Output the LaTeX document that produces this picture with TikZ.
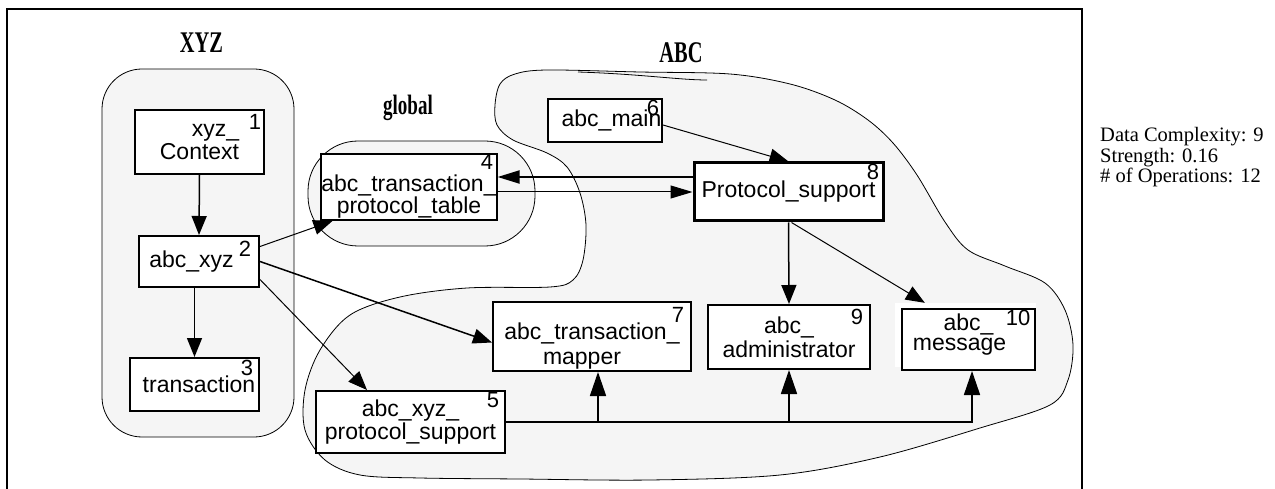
\documentclass[tikz,border=0pt]{standalone}
\usepackage{fontspec}
\setmainfont{Liberation Serif}
\setsansfont{Liberation Sans}
\newfontfamily\titlefont[FakeStretch=0.68]{Liberation Serif Bold}
\usetikzlibrary{arrows.meta}
\definecolor{grpfill}{HTML}{F5F5F5}

\tikzset{
  box/.style={draw, line width=2pt, fill=white, inner sep=0pt, align=center,
    font=\sffamily\fontsize{23}{23}\selectfont},
  num/.style={inner sep=0pt, font=\sffamily\fontsize{22}{22}\selectfont},
  grp/.style={draw, line width=0.8pt, fill=grpfill},
  grptitle/.style={anchor=base, inner sep=0pt, font=\titlefont\fontsize{30}{30}\selectfont},
  stat/.style={anchor=base west, inner sep=0pt, font=\fontsize{20.5}{21}\selectfont},
  dep/.style={line width=1.5pt, -{Triangle[length=19pt,width=15pt]}},
  bus/.style={line width=1.6pt, -{Triangle[length=24pt,width=16pt]}},
}

\begin{document}
\begin{tikzpicture}[x=1pt,y=-1pt]
\useasboundingbox (0,0) rectangle (1275,489);
\draw[line width=2.5pt] (7,489) -- (7,9) -- (1082,9) -- (1082,489);

% groups
\draw[grp, rounded corners=40pt] (102,69) rectangle (294,437);
\draw[grp, rounded corners=50pt] (308,141) rectangle (535,246);
\draw[grp] plot[smooth cycle, tension=0.55] coordinates {
  (547,70) (640,72) (730,74) (790,84) (835,100) (868,120) (893,143) (917,175)
  (945,222) (968,250) (1005,266) (1045,283) (1065,310) (1073,345) (1068,380)
  (1050,405) (980,428) (880,457) (780,475) (650,480) (520,479) (420,478)
  (360,475) (325,460) (305,430) (305,390) (320,350) (350,315) (400,297)
  (467,288) (550,287) (573,280) (583,260) (586,225) (580,193) (567,167)
  (547,153) (513,140) (497,125) (495,105) (500,84) (515,74)};
\draw[line width=0.8pt] (578,72) .. controls (640,74) and (680,80) .. (707,80);

\node[grptitle] (xyzt) at (201.5,53) {XYZ};
\node[grptitle, font=\titlefont\fontsize{28}{28}\selectfont] (globt) at (408,115) {global};
\node[grptitle] (abct) at (681,63) {ABC};

% modules
\node[box, minimum width=129pt, minimum height=64pt, align=right] (ctx) at (199.5,142) {xyz\_\\Context};
\node[box, minimum width=120pt, minimum height=51pt] (axyz) at (199,261.5) {abc\_xyz\hspace*{15pt}};
\node[box, minimum width=129pt, minimum height=53pt] (trans) at (194.5,384.5) {\hspace*{9pt}transaction};
\node[box, minimum width=170pt, minimum height=66pt,
  font=\sffamily\fontsize{23}{16}\selectfont] (tpt) at (409,187) {\rule{0pt}{36pt}abc\_transaction\_\\protocol\_table};
\node[box, minimum width=189pt, minimum height=62pt] (xpsup) at (410.5,422) {abc\_xyz\_\\protocol\_support};
\node[box, minimum width=114pt, minimum height=43pt] (amain) at (605,120.5) {\hspace*{13pt}abc\_main};
\node[box, minimum width=198pt, minimum height=69pt,
  font=\sffamily\fontsize{23}{25}\selectfont] (map) at (592,336.5) {\rule{0pt}{36pt}abc\_transaction\_\\mapper\hspace*{20pt}};
\node[box, line width=3pt, minimum width=189pt, minimum height=58pt] (proto) at (788.5,192) {Protocol\_support};
\node[box, minimum width=162pt, minimum height=64pt,
  font=\sffamily\fontsize{23}{24}\selectfont] (admin) at (789,337) {abc\_\\administrator};
\node[fill=white, inner sep=0pt, minimum width=141pt, minimum height=64pt] (msgbg) at (965.5,335) {};
\node[box, minimum width=133pt, minimum height=61pt,
  font=\sffamily\fontsize{23}{20}\selectfont] (msg) at (968.5,339.5) {abc\_\\message\hspace*{18pt}\rule[-15pt]{0pt}{15pt}};

\foreach \n/\x/\y in {1/255/122, 2/245/249, 3/247/368, 4/487/162, 5/493/400,
  6/653/108, 7/678/315, 8/873/172, 9/857/317, 10/1018/318}
  \node[num] (num\n) at (\x,\y) {\n};

% dependencies
\draw[dep] (ctx.south) -- (axyz.north);
\draw[dep] (trans.north |- axyz.south) -- (trans.north);
\draw[dep, line width=1pt] ([yshift=15pt]axyz.east) -- ([xshift=12pt]tpt.south west);
\draw[dep] (axyz.east) -- ([yshift=-6pt]map.west);
\draw[dep, line width=1pt] ([yshift=-18pt]axyz.east) -- ([xshift=52pt]xpsup.north west);
\draw[line width=2pt, -{Triangle[length=22pt,width=13pt]}] ([yshift=15pt]proto.west) -- ([yshift=15pt]proto.west -| tpt.east);
\draw[line width=1pt, -{Triangle[length=22pt,width=13pt]}] (tpt.east |- proto.west) -- (proto.west);
\draw[dep, line width=1pt] ([yshift=-4.5pt]amain.east) -- (proto.north);
\draw[dep] (proto.south) -- (admin.north);
\draw[dep, line width=1pt] ([xshift=3pt]proto.south) -- ([xshift=30pt]msgbg.north west);
\draw[bus] (xpsup.east) -| ([xshift=3.5pt]msg.south);
\draw[bus] ([xshift=6pt]map.south |- xpsup.east) -- ([xshift=6pt]map.south);
\draw[bus] (admin.south |- xpsup.east) -- (admin.south);

\node[stat] (stat1) at (1100,142) {Data Complexity: 9};
\node[stat] (stat2) at (1100,163) {Strength: 0.16};
\node[stat] (stat3) at (1100,183) {\# of Operations: 12};
\end{tikzpicture}
\end{document}
